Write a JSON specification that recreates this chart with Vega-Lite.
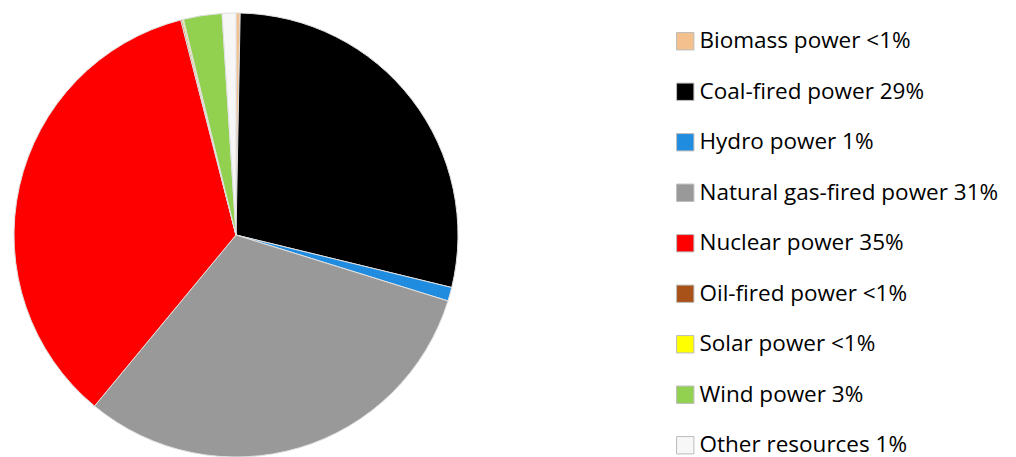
{
  "$schema": "https://vega.github.io/schema/vega-lite/v6.json",
  "width": 472,
  "height": 470,
  "padding": 0,
  "autosize": {"type": "pad"},
  "background": "white",
  "data": {
    "values": [
      {"source": "Biomass power <1%", "share": 0.3, "idx": 1},
      {"source": "Coal-fired power 29%", "share": 28.5, "idx": 2},
      {"source": "Hydro power 1%", "share": 1.0, "idx": 3},
      {"source": "Natural gas-fired power 31%", "share": 31.2, "idx": 4},
      {"source": "Nuclear power 35%", "share": 35.0, "idx": 5},
      {"source": "Oil-fired power <1%", "share": 0.1, "idx": 6},
      {"source": "Solar power <1%", "share": 0.1, "idx": 7},
      {"source": "Wind power 3%", "share": 2.8, "idx": 8},
      {"source": "Other resources 1%", "share": 1.0, "idx": 9}
    ]
  },
  "mark": {"type": "arc", "outerRadius": 222, "stroke": "#e0e0e0", "strokeWidth": 1},
  "encoding": {
    "theta": {"field": "share", "type": "quantitative", "stack": true},
    "order": {"field": "idx", "type": "quantitative", "sort": "ascending"},
    "color": {
      "field": "source",
      "type": "nominal",
      "sort": {"field": "idx", "order": "ascending"},
      "scale": {
        "domain": ["Biomass power <1%", "Coal-fired power 29%", "Hydro power 1%", "Natural gas-fired power 31%", "Nuclear power 35%", "Oil-fired power <1%", "Solar power <1%", "Wind power 3%", "Other resources 1%"],
        "range": ["#F4C08E", "#000000", "#1F8CE0", "#999999", "#FF0000", "#A8521A", "#FFFF00", "#92D050", "#F7F7F7"]
      },
      "legend": {
        "orient": "none",
        "legendX": 674,
        "legendY": 30,
        "title": null,
        "padding": 0,
        "symbolType": "square",
        "symbolSize": 300,
        "symbolStrokeColor": "#bbbbbb",
        "symbolStrokeWidth": 1,
        "labelFont": "Open Sans",
        "labelFontSize": 22.5,
        "labelColor": "#000000",
        "labelOffset": 3,
        "labelLimit": 400,
        "rowPadding": 27.5
      }
    }
  }
}
